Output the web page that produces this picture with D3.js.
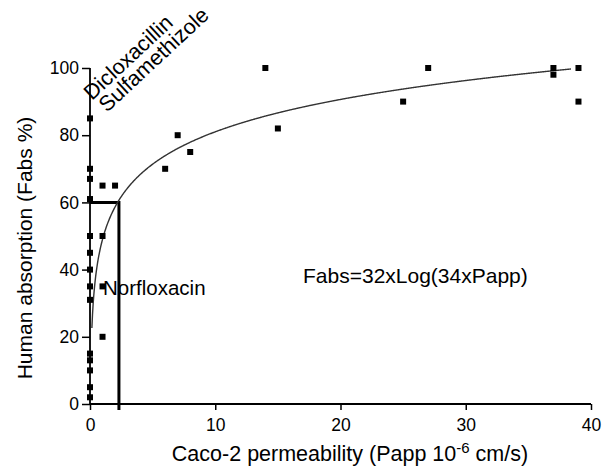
<!DOCTYPE html>
<html>
<head>
<meta charset="utf-8">
<script src="https://cdn.jsdelivr.net/npm/d3@7"></script>
<style>
  body { margin: 0; background: #fff; }
  text { font-family: "Liberation Sans", Arial, sans-serif; fill: #000; }
</style>
</head>
<body>
<script>
// measured compounds: Caco-2 Papp (10^-6 cm/s) vs human absorption (%)
var papp = [0, 0, 0, 0, 0, 0, 0, 0, 0, 0, 0, 0, 0, 0,
            1, 2, 1, 1, 1, 6, 7, 8, 14, 15, 25, 27, 37, 37, 39, 39];
var fabs = [85, 70, 67, 61, 50, 45, 40, 35, 31, 15, 13, 10, 5, 2,
            65, 65, 50, 35, 20, 70, 80, 75, 100, 82, 90, 100, 100, 98, 100, 90];

var xTicks = [0, 10, 20, 30, 40];
var yTicks = [0, 20, 40, 60, 80, 100];

// fitted curve Fabs = 32 x Log(34 x Papp)
var fitA = 32, fitB = 34;
var fitStart = 0.15, fitEnd = 38.4;
var cutoffPapp = 2.31, cutoffFabs = 60;

var w = 603, h = 466;

var x = d3.scaleLinear().domain([0, 40]).range([90, 591]);
var y = d3.scaleLinear().domain([0, 100]).range([404, 68]);

var svg = d3.select("body").append("svg")
	.attr("width", w)
	.attr("height", h);

// y axis
var yAxis = svg.append("g")
	.attr("transform", "translate(" + x(0) + ",0)")
	.call(d3.axisLeft(y).tickValues(yTicks).tickSize(8).tickPadding(3));
// x axis
var xAxis = svg.append("g")
	.attr("transform", "translate(0," + y(0) + ")")
	.call(d3.axisBottom(x).tickValues(xTicks).tickSize(6).tickPadding(9));

[xAxis, yAxis].forEach(function(g) {
	g.select(".domain").attr("stroke", "#000").attr("stroke-width", 1.8);
	g.selectAll(".tick line").attr("stroke", "#000").attr("stroke-width", 1.5);
	g.selectAll(".tick text")
		.attr("font-family", "Liberation Sans, Arial, sans-serif")
		.attr("font-size", "17.5px")
		.attr("fill", "#000");
});
// remove outer tick stubs
yAxis.select(".domain").attr("d", "M0," + y(0) + "V" + y(100));
xAxis.select(".domain").attr("d", "M" + x(0) + ",0H" + x(40));

// cutoff lines at 60 %
svg.append("path")
	.attr("d", "M" + x(0) + "," + y(cutoffFabs) + "H" + x(cutoffPapp) + "V" + (y(0) + 6))
	.attr("fill", "none")
	.attr("stroke", "#000")
	.attr("stroke-width", 3);

// fitted curve
var fitX = d3.range(fitStart, fitEnd, 0.05).concat([fitEnd]);
var line = d3.line()
	.x(function(d) { return x(d); })
	.y(function(d) { return y(fitA * Math.log10(fitB * d)); })
	.curve(d3.curveMonotoneX);
svg.append("path")
	.datum(fitX)
	.attr("d", line)
	.attr("fill", "none")
	.attr("stroke", "#333")
	.attr("stroke-width", 1.4);

// points
var s = 6;
svg.selectAll("rect.pt")
	.data(papp)
	.enter()
	.append("rect")
	.attr("class", "pt")
	.attr("x", function(d) { return x(d) - s / 2; })
	.attr("y", function(d, i) { return y(fabs[i]) - s / 2; })
	.attr("width", s)
	.attr("height", s)
	.attr("fill", "#000");

// annotations
svg.append("text")
	.attr("transform", "translate(92,101) rotate(-43)")
	.attr("font-size", "21.5px")
	.text("Dicloxacillin");
svg.append("text")
	.attr("transform", "translate(107,113) rotate(-43)")
	.attr("font-size", "21.5px")
	.text("Sulfamethizole");
svg.append("text")
	.attr("x", 103)
	.attr("y", 295)
	.attr("font-size", "20.5px")
	.text("Norfloxacin");
svg.append("text")
	.attr("x", 303)
	.attr("y", 283)
	.attr("font-size", "21px")
	.text("Fabs=32xLog(34xPapp)");

// axis titles
var xt = svg.append("text")
	.attr("x", 350)
	.attr("y", 461)
	.attr("text-anchor", "middle")
	.attr("font-size", "21.5px");
xt.append("tspan").text("Caco-2 permeability (Papp 10");
xt.append("tspan").attr("dy", -8).attr("font-size", "15px").text("-6");
xt.append("tspan").attr("dy", 8).text(" cm/s)");

svg.append("text")
	.attr("transform", "translate(32,248) rotate(-90)")
	.attr("text-anchor", "middle")
	.attr("font-size", "21px")
	.text("Human absorption (Fabs %)");
</script>
</body>
</html>
